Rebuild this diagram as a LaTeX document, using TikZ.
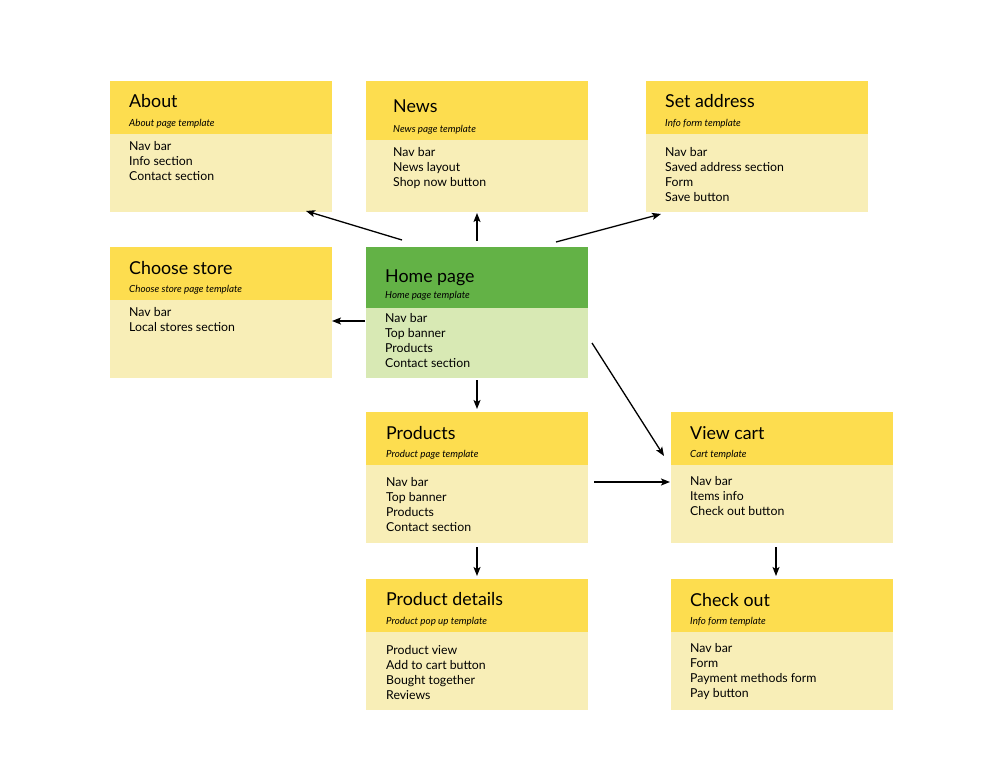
\documentclass[tikz,border=0pt]{standalone}
\usepackage{fontspec}
\setmainfont{Lato}
\usetikzlibrary{arrows.meta}
\definecolor{headY}{HTML}{FDDD4F}
\definecolor{bodyY}{HTML}{F8EEB7}
\definecolor{headG}{HTML}{63B246}
\definecolor{bodyG}{HTML}{D8E9B4}
\tikzset{
  pbox/.style={anchor=north west, inner sep=0pt, minimum width=222pt, minimum height=131pt},
  phead/.style={anchor=north west, inner sep=0pt, minimum width=222pt},
  ttl/.style={anchor=base west, inner sep=0pt, font=\fontsize{17.8}{20}\selectfont},
  sub/.style={anchor=base west, inner sep=0pt, font=\fontsize{9.8}{11}\selectfont\itshape},
  itm/.style={anchor=base west, inner sep=0pt, align=left, font=\fontsize{12.3}{15}\selectfont},
  conn/.style={draw, line width=1.3pt, -{Stealth[length=9pt,width=7pt,inset=2pt]}}
}
\begin{document}
\begin{tikzpicture}[x=1pt,y=-1pt]
\useasboundingbox (0,0) rectangle (1000,773);
% About
\node[pbox, fill=bodyY] (about) at (110,81) {};
\node[phead, fill=headY, minimum height=53pt] (abouth) at (about.north west) {};
\node[ttl] (aboutt) at (129,107) {About};
\node[sub] (abouts) at (129,126) {About page template};
\node[itm] (abouti) at (129,180) {Nav bar\\Info section\\Contact section};
% News
\node[pbox, fill=bodyY] (news) at (366,81) {};
\node[phead, fill=headY, minimum height=59pt] (newsh) at (news.north west) {};
\node[ttl] (newst) at (393,113) {News};
\node[sub] (newss) at (393,132) {News page template};
\node[itm] (newsi) at (393,186) {Nav bar\\News layout\\Shop now button};
% Set address
\node[pbox, fill=bodyY] (addr) at (646,81) {};
\node[phead, fill=headY, minimum height=53pt] (addrh) at (addr.north west) {};
\node[ttl] (addrt) at (665,107) {Set address};
\node[sub] (addrs) at (665,126) {Info form template};
\node[itm] (addri) at (665,201) {Nav bar\\Saved address section\\Form\\Save button};
% Choose store
\node[pbox, fill=bodyY] (store) at (110,247) {};
\node[phead, fill=headY, minimum height=53pt] (storeh) at (store.north west) {};
\node[ttl] (storet) at (129,274) {Choose store};
\node[sub] (stores) at (129,292) {Choose store page template};
\node[itm] (storei) at (129,331) {Nav bar\\Local stores section};
% Home page
\node[pbox, fill=bodyG] (home) at (366,247) {};
\node[phead, fill=headG, minimum height=61pt] (homeh) at (home.north west) {};
\node[ttl] (homet) at (385,282) {Home page};
\node[sub] (homes) at (385,298) {Home page template};
\node[itm] (homei) at (385,367) {Nav bar\\Top banner\\Products\\Contact section};
% Products
\node[pbox, fill=bodyY] (prod) at (366,412) {};
\node[phead, fill=headY, minimum height=53pt] (prodh) at (prod.north west) {};
\node[ttl] (prodt) at (386,439) {Products};
\node[sub] (prods) at (386,457) {Product page template};
\node[itm] (prodi) at (386,531) {Nav bar\\Top banner\\Products\\Contact section};
% View cart
\node[pbox, fill=bodyY] (cart) at (671,412) {};
\node[phead, fill=headY, minimum height=53pt] (carth) at (cart.north west) {};
\node[ttl] (cartt) at (690,439) {View cart};
\node[sub] (carts) at (690,457) {Cart template};
\node[itm] (carti) at (690,515) {Nav bar\\Items info\\Check out button};
% Product details
\node[pbox, fill=bodyY] (det) at (366,579) {};
\node[phead, fill=headY, minimum height=53pt] (deth) at (det.north west) {};
\node[ttl] (dett) at (386,605) {Product details};
\node[sub] (dets) at (386,624) {Product pop up template};
\node[itm] (deti) at (386,699) {Product view\\Add to cart button\\Bought together\\Reviews};
% Check out
\node[pbox, fill=bodyY] (chk) at (671,579) {};
\node[phead, fill=headY, minimum height=53pt] (chkh) at (chk.north west) {};
\node[ttl] (chkt) at (690,606) {Check out};
\node[sub] (chks) at (690,624) {Info form template};
\node[itm] (chki) at (690,697) {Nav bar\\Form\\Payment methods form\\Pay button};
% connector end points
\coordinate (a1) at (402,240); \coordinate (b1) at (306,211);
\coordinate (a2) at (477,241); \coordinate (b2) at (477,213);
\coordinate (a3) at (556,242); \coordinate (b3) at (661,214);
\coordinate (a4) at (365,321); \coordinate (b4) at (332,321);
\coordinate (a5) at (477,380); \coordinate (b5) at (477,409);
\coordinate (a6) at (592,343); \coordinate (b6) at (664,456);
\coordinate (a7) at (594,482); \coordinate (b7) at (670,482);
\coordinate (a8) at (477,547); \coordinate (b8) at (477,576);
\coordinate (a9) at (776,547); \coordinate (b9) at (776,576);
\draw[conn] (a1) -- (b1);
\draw[conn] (a2) -- (b2);
\draw[conn] (a3) -- (b3);
\draw[conn] (a4) -- (b4);
\draw[conn] (a5) -- (b5);
\draw[conn] (a6) -- (b6);
\draw[conn] (a7) -- (b7);
\draw[conn] (a8) -- (b8);
\draw[conn] (a9) -- (b9);
\end{tikzpicture}
\end{document}
